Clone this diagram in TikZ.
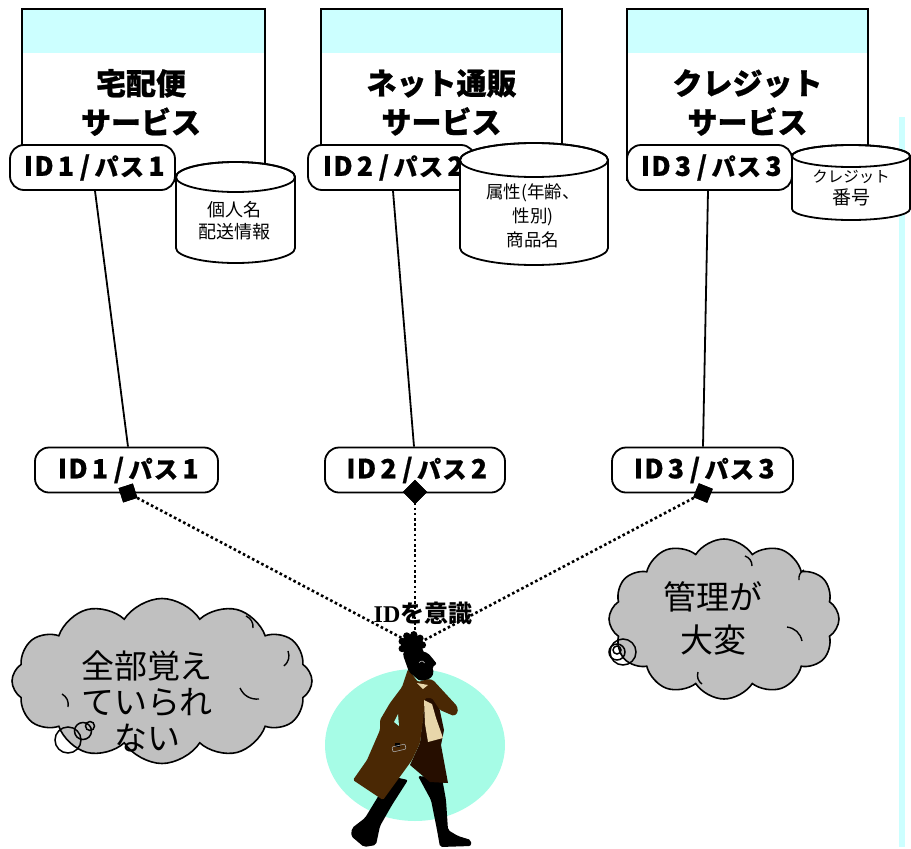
\documentclass[tikz,border=0pt]{standalone}
\usepackage{fontspec}
\setmainfont{Liberation Serif}
\newfontfamily\jp{Noto Sans CJK JP}
\newfontfamily\jpheavy{Noto Sans CJK JP}[BoldFeatures={FakeBold=0.8}]
\usetikzlibrary{shapes.symbols,calc}
\definecolor{bandcyan}{RGB}{204,255,255}
\definecolor{cloudgray}{RGB}{192,192,192}
\definecolor{aqua}{RGB}{166,252,230}
\definecolor{coatbrown}{RGB}{74,40,4}
\definecolor{lining}{RGB}{38,14,0}
\definecolor{scarf}{RGB}{232,214,170}
% credential label "ID n / pass n", each glyph on a fixed pitch
\newcommand\glyphat[2]{\makebox[0pt]{#1}\hspace{#2}}
\newcommand\credtext[1]{\glyphat{I}{15.5pt}\glyphat{D}{22pt}\glyphat{#1}{19pt}\glyphat{/}{21.5pt}\glyphat{{\fontsize{24}{28}\selectfont パ}}{25.5pt}\glyphat{{\fontsize{24}{28}\selectfont ス}}{24.5pt}\makebox[0pt]{#1}}
\begin{document}
\begin{tikzpicture}[x=1pt,y=-1pt,
  svc/.style={draw, line width=2pt, fill=white, minimum height=171pt, inner sep=0pt,
    path picture={\fill[bandcyan] (path picture bounding box.north west) rectangle ([yshift=-44pt]path picture bounding box.north east);}},
  svctitle/.style={font=\jpheavy\bfseries\fontsize{30}{39}\selectfont, align=center, inner sep=0pt},
  idpill/.style={draw, line width=1.8pt, fill=white, rounded corners=14pt, minimum height=45pt, inner sep=0pt,
    font=\jpheavy\bfseries\fontsize{26.5}{28}\selectfont},
  dbtext/.style={font=\jp\fontsize{18}{22}\selectfont, align=center, inner sep=0pt},
  link/.style={line width=1.8pt},
  dotlink/.style={line width=2.6pt, dash pattern=on 2.6pt off 2.6pt},
  marker/.style={fill=black, minimum size=15pt, inner sep=0pt},
  thought/.style={cloud, cloud puffs=12, cloud puff arc=115, cloud ignores aspect, draw, line width=1.6pt,
    fill=cloudgray, inner sep=0pt},
  crease/.style={line width=1.4pt},
  thoughttext/.style={font=\jp\fontsize{33}{36}\selectfont, align=center, inner sep=0pt},
  bubble/.style={line width=1.5pt}
]
\useasboundingbox (0,0) rectangle (911,849);

% side strip
\fill[bandcyan] (899,117) rectangle (905,847);

% service boxes
\node[svc, minimum width=243pt] (s1) at (143.5,94.5) {};
\node[svc, minimum width=241pt] (s2) at (441.5,94.5) {};
\node[svc, minimum width=241pt] (s3) at (747.5,94.5) {};
\node[svctitle] (t1) at (141,102.5) {宅配便\\サービス};
\node[svctitle] (t2) at (441.5,102.5) {ネット通販\\サービス};
\node[svctitle] (t3) at (747.5,102.5) {クレジット\\サービス};

% upper and lower credential pills
\node[idpill, minimum width=165pt] (p1) at (92.5,167.5) {\credtext{1}};
\node[idpill, minimum width=167pt] (p2) at (391.5,167.5) {\credtext{2}};
\node[idpill, minimum width=165pt] (p3) at (709.5,167.5) {\credtext{3}};
\node[idpill, minimum width=183pt] (q1) at (126.5,470) {\credtext{1}};
\node[idpill, minimum width=180pt] (q2) at (415,470) {\credtext{2}};
\node[idpill, minimum width=181pt] (q3) at (702.5,470) {\credtext{3}};

\draw[link] ([xshift=2.5pt]p1.south) -- ([xshift=1.5pt]q1.north);
\draw[link] ([xshift=1.5pt]p2.south) -- ([xshift=-1pt]q2.north);
\draw[link] ([xshift=-1.5pt]p3.south) -- ([xshift=0.5pt]q3.north);

% databases (cylinders)
\foreach \L/\R/\T/\B/\r in {176/295/162/263/15, 460/608/143/265/17, 792/910/145/220/11}{
  \pgfmathsetmacro\cx{(\L+\R)/2}
  \pgfmathsetmacro\rx{(\R-\L)/2}
  \filldraw[fill=white, line width=1.8pt] (\L,\T+\r) -- (\L,\B-\r)
     arc[start angle=180, end angle=0, x radius=\rx, y radius=\r]
     -- (\R,\T+\r) arc[start angle=0, end angle=-180, x radius=\rx, y radius=\r] -- cycle;
  \draw[line width=1.8pt] (\cx,\T+\r) ellipse[x radius=\rx, y radius=\r];
}
\node[dbtext] (d1) at (234,221) {個人名\\配送情報};
\node[dbtext, font=\jp\fontsize{17.5}{24}\selectfont] (d2) at (533,216) {属性(年齢、\\性別)\\商品名};
\node[dbtext] (d3) at (851,188.5) {{\fontsize{15.5}{27}\selectfont クレジット}\\{\fontsize{19}{27}\selectfont 番号}};

% the person and the dotted links to her
\coordinate (head) at (415,645);
\node[marker, rotate=18] (m1) at (128,493) {};
\node[marker, rotate=45, minimum size=17pt] (m2) at (415,492) {};
\node[marker, rotate=-22] (m3) at (703,493) {};
\draw[dotlink] (m1.center) -- (head);
\draw[dotlink] (m2.center) -- (head);
\draw[dotlink] (m3.center) -- (head);
\node[marker, rotate=18] at (m1) {};
\node[marker, rotate=45, minimum size=17pt] at (m2) {};
\node[marker, rotate=-22] at (m3) {};

\fill[aqua] (415,745) ellipse[x radius=90, y radius=76];
% legs
\fill[black, rounded corners=2pt] (390,776) -- (408,780) -- (392,805) -- (380,826) -- (376,845) -- (364,847) -- (351,836) -- (352,828) -- (365,818) -- (379,795) -- cycle;
\fill[black, rounded corners=2pt] (418,776) -- (442,778) -- (446,800) -- (448,830) -- (458,836) -- (471,840) -- (471,846) -- (440,847) -- (437,830) -- (431,800) -- cycle;
% coat lining
\fill[lining] (425,698) -- (437,697) -- (444,730) -- (441,745) -- (448,783) -- (430,782) -- (410,765) -- (420,743) -- cycle;
% coat
\fill[coatbrown, rounded corners=1.5pt] (408,669) -- (418,682) -- (428,679) -- (433,680) -- (457,706) -- (458,712) -- (454,716) -- (440,710) -- (432,698)
  -- (425,698) -- (423,720) -- (420,743) -- (412,760) -- (407,767) -- (383,800) -- (353,780) -- (367,760) -- (380,730)
  -- (380,720) -- (390,703) -- (402,687) -- cycle;
\fill[aqua] (394,722) -- (398,714) -- (399,726) -- cycle;
% scarf
\fill[scarf] (424,700) -- (432,704) -- (436,718) -- (443,738) -- (428,742) -- (425,724) -- cycle;
\fill[scarf] (417,683) -- (428,685) -- (423,689) -- cycle;
% pocket
\fill[black] (395,743) rectangle (400,747);
\draw[gray!70, line width=0.6pt, rounded corners=1pt] (392,747) -- (405,744) -- (406,749) -- (393,752) -- cycle;
% head and hair
\fill[black, rounded corners=2pt] (403,655) -- (418,650) -- (428,653) -- (433,659) -- (437,664) -- (432,667) -- (434,673) -- (430,679) -- (420,681) -- (409,672) -- cycle;
\fill[black] (412,645) circle[radius=11];
\foreach \a in {0,40,...,320}{\fill[black] ($(412,645)+(\a:10.5)$) circle[radius=3.6];}
\draw[gray!60, line width=0.6pt] (419,663) arc[start angle=200, end angle=340, radius=3];
\node[font=\fontsize{24}{28}\selectfont\bfseries, inner sep=0pt] (aware) at (423,613) {ID{\jp\bfseries を意識}};

% thought clouds
\node[thought, minimum width=300pt, minimum height=165pt] (c1) at (162,681) {};
\draw[crease] (62,694) to[bend left=35] (68,707);
\draw[crease] (240,688) to[bend right=35] (259,699);
\draw[crease] (284,666) to[bend right=35] (288,651);
\draw[crease] (246,616) to[bend left=35] (253,628);
\node[thoughttext] (c1t) at (147,701) {全部覚え\\ていられ\\ない};
\draw[bubble] (68,740) circle[radius=13];
\draw[bubble] (83,731) circle[radius=8.5];
\draw[bubble] (90,726) circle[radius=4.5];

\node[thought, minimum width=230pt, minimum height=160pt] (c2) at (724,619) {};
\draw[crease] (787,627) to[bend left=35] (802,641);
\draw[crease] (799,580) to[bend left=35] (804,570);
\draw[crease] (698,672) to[bend right=35] (702,684);
\draw[crease] (745,556) to[bend left=35] (752,566);
\node[thoughttext, font=\jp\fontsize{33}{43}\selectfont] (c2t) at (713,618.5) {管理が\\大変};
\draw[bubble] (623,652) circle[radius=13];
\draw[bubble] (617,652) circle[radius=8];
\draw[bubble] (617,650) circle[radius=4];
\end{tikzpicture}
\end{document}
